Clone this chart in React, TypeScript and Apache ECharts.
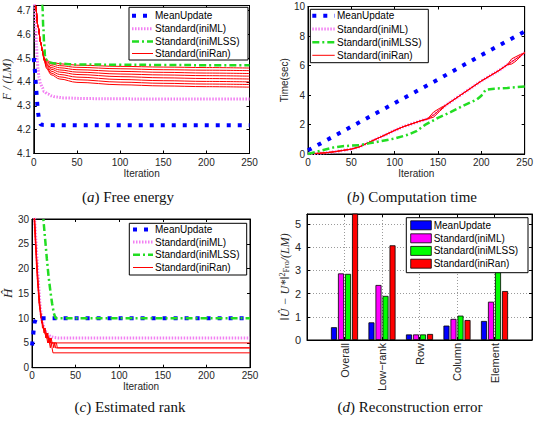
import React, { useEffect, useRef } from "react";
import * as echarts from "echarts";

// ---------- (a) Free energy ----------
const feMeanIter = [0, 1, 2, 3, 4, 5, 6, 7, 8, 10, 20, 50, 100, 150, 200, 250];
const feMeanVal = [4.5, 4.46, 4.41, 4.36, 4.31, 4.27, 4.245, 4.23, 4.222, 4.22, 4.219, 4.218, 4.218, 4.218, 4.218, 4.218];
const feMLIter = [0, 1, 2, 3, 4, 5, 6, 8, 10, 12, 16, 20, 25, 35, 60, 100, 150, 200, 250];
const feMLVal = [4.8, 4.72, 4.64, 4.56, 4.49, 4.45, 4.42, 4.39, 4.375, 4.36, 4.35, 4.342, 4.337, 4.333, 4.33, 4.329, 4.328, 4.328, 4.328];
const feMLSSIter = [9, 10, 11, 12, 13, 14, 17, 25, 50, 100, 150, 200, 250];
const feMLSSVal = [4.85, 4.72, 4.63, 4.56, 4.51, 4.495, 4.482, 4.477, 4.473, 4.472, 4.471, 4.47, 4.47];
const feRanIter = [0, 2, 5, 8, 10, 12, 15, 20, 30, 50, 100, 150, 200, 250];
const feRanRuns = [
  [4.95, 4.72, 4.63, 4.565, 4.53, 4.5, 4.49, 4.482, 4.476, 4.47, 4.465, 4.462, 4.46, 4.458],
  [4.95, 4.72, 4.63, 4.565, 4.53, 4.5, 4.485, 4.475, 4.468, 4.461, 4.455, 4.451, 4.449, 4.447],
  [4.95, 4.72, 4.63, 4.565, 4.53, 4.498, 4.48, 4.468, 4.459, 4.451, 4.444, 4.44, 4.437, 4.435],
  [4.95, 4.72, 4.63, 4.565, 4.53, 4.497, 4.475, 4.46, 4.45, 4.441, 4.433, 4.429, 4.426, 4.424],
  [4.95, 4.72, 4.63, 4.565, 4.53, 4.495, 4.47, 4.453, 4.441, 4.431, 4.422, 4.417, 4.414, 4.412],
  [4.95, 4.72, 4.63, 4.565, 4.53, 4.493, 4.465, 4.445, 4.431, 4.42, 4.41, 4.405, 4.402, 4.4],
  [4.95, 4.72, 4.63, 4.565, 4.53, 4.49, 4.46, 4.437, 4.421, 4.409, 4.399, 4.394, 4.391, 4.389],
  [4.95, 4.72, 4.63, 4.565, 4.53, 4.488, 4.455, 4.43, 4.412, 4.398, 4.388, 4.383, 4.38, 4.378],
];

// ---------- (b) Computation time ----------
const ctMeanIter = [0, 50, 100, 150, 200, 250];
const ctMeanVal = [0.25, 1.85, 3.45, 5.05, 6.7, 8.3];
const ctMLSSIter = [0, 10, 20, 30, 40, 50, 60, 70, 85, 100, 115, 125, 135, 150, 165, 180, 195, 200, 205, 215, 230, 250];
const ctMLSSVal = [0.0, 0.15, 0.3, 0.45, 0.53, 0.57, 0.6, 0.72, 0.88, 1.05, 1.3, 1.55, 1.97, 2.45, 2.85, 3.3, 3.7, 3.95, 4.35, 4.43, 4.48, 4.58];
const ctRanIter = [0, 10, 20, 30, 40, 50, 60, 70, 80, 90, 100, 110, 120, 130, 138, 145, 152, 160, 175, 190, 200, 210, 220, 230, 235, 240, 245, 250];
const ctRanRuns = [
  [0.02, 0.04, 0.08, 0.15, 0.24, 0.33, 0.5, 0.78, 1.05, 1.32, 1.6, 1.85, 2.05, 2.25, 2.38, 2.65, 3.0, 3.35, 3.95, 4.55, 4.95, 5.3, 5.65, 6.05, 6.25, 6.45, 6.65, 6.88],
  [0.02, 0.04, 0.08, 0.15, 0.24, 0.33, 0.5, 0.78, 1.05, 1.32, 1.6, 1.85, 2.05, 2.25, 2.38, 2.85, 3.1, 3.35, 3.95, 4.55, 4.95, 5.3, 5.65, 6.05, 6.45, 6.6, 6.75, 6.82],
  [0.02, 0.04, 0.08, 0.15, 0.24, 0.33, 0.5, 0.78, 1.05, 1.32, 1.6, 1.85, 2.05, 2.25, 2.38, 2.5, 2.9, 3.35, 3.95, 4.55, 4.95, 5.3, 5.65, 6.05, 6.1, 6.3, 6.6, 6.92],
];
const ctMLVal = ctRanRuns[0];

// ---------- (c) Estimated rank ----------
const rkMeanIter = [0, 1, 2, 3, 5, 250];
const rkMeanVal = [4.5, 6, 7.7, 9.2, 10, 10];
const rkMLSSIter = [12, 13, 15, 17, 19, 21, 23, 25, 27, 250];
const rkMLSSVal = [32, 30, 26, 22, 18.4, 15.5, 13, 11, 10, 10];
const rkMLIter = [0, 3, 5, 7, 9, 11, 13, 15, 18, 21, 25, 30, 250];
const rkMLVal = [32, 30, 24, 18, 13, 10, 8.5, 7.5, 6.8, 6.3, 6.1, 6, 6];
const rkRanRuns: number[][][] = [
  [[2, 32], [3, 29], [4, 25], [5, 23], [6, 20], [7, 17], [8, 15], [9, 13], [10, 11], [11, 10], [12, 9], [13, 8], [14, 8], [15, 7], [16, 7], [17, 7], [18, 6], [19, 6], [20, 6], [21, 5], [22, 6], [23, 5], [250, 5]],
  [[2, 32], [3, 30], [4, 26], [5, 22], [6, 19], [7, 16], [8, 14], [9, 12], [10, 11], [11, 9], [12, 9], [13, 8], [14, 7], [15, 8], [16, 7], [17, 6], [18, 7], [19, 6], [20, 5], [21, 6], [22, 5], [24, 5], [25, 4], [26, 5], [27, 4], [250, 4]],
  [[2, 31], [3, 28], [4, 25], [5, 21], [6, 18], [7, 16], [8, 13], [9, 12], [10, 10], [11, 10], [12, 8], [13, 8], [14, 7], [15, 7], [16, 6], [17, 7], [18, 6], [19, 5], [20, 6], [21, 5], [28, 5], [29, 4], [250, 4]],
  [[2, 33], [3, 30], [4, 27], [5, 23], [6, 20], [7, 17], [8, 14], [9, 12], [10, 11], [11, 10], [12, 9], [13, 8], [14, 8], [15, 7], [16, 6], [17, 6], [18, 5], [19, 6], [20, 5], [21, 4], [22, 5], [23, 4], [24, 3], [250, 3]],
];

// ---------- (d) Reconstruction error ----------
const errCategories = ["Overall", "Low\u2212rank", "Row", "Column", "Element"];
const errMean = [0.55, 0.76, 0.24, 0.62, 0.82];
const errML = [2.87, 2.37, 0.24, 0.91, 1.65];
const errMLSS = [2.85, 1.9, 0.24, 1.05, 3.3];
const errRan = [5.6, 4.08, 0.26, 0.86, 2.11];

const seriesNames = ["MeanUpdate", "Standard(iniML)", "Standard(iniMLSS)", "Standard(iniRan)"];

const SANS = "Liberation Sans, Arial, Helvetica, sans-serif";
const SERIF = "'Liberation Serif', 'Times New Roman', serif";
const TXT = "#262626";

const BLUE = "#0000ff";
const PINK = "#f27ff2";
const GREEN = "#22dd22";
const RED = "#ff0000";

const lineStyles: any[] = [
  { color: BLUE, width: 4, type: [4, 7], cap: "butt" },
  { color: PINK, width: 3, type: [1.5, 1.5], cap: "butt" },
  { color: GREEN, width: 2.5, type: [7, 3, 2, 3], cap: "butt" },
  { color: RED, width: 1 },
];
const barColors = [BLUE, "#ff00ff", "#00ff00", RED];

const zip = (xs: number[], ys: number[]) => xs.map((x, i) => [x, ys[i]]);

const tick = { show: true, inside: true, length: 3, lineStyle: { color: "#000", width: 1 } };
const line = { show: true, onZero: false, lineStyle: { color: "#000", width: 1 } };

function iterXAxes(gi: number, margin: number, nameGap: number) {
  const base = { type: "value", gridIndex: gi, min: 0, max: 250, interval: 50, axisLine: line, axisTick: tick, splitLine: { show: false } };
  return [
    {
      ...base,
      position: "bottom",
      axisLabel: { color: TXT, fontFamily: SANS, fontSize: 10, margin },
      name: "Iteration",
      nameLocation: "middle",
      nameGap,
      nameTextStyle: { color: TXT, fontFamily: SANS, fontSize: 10 },
    },
    { ...base, position: "top", axisLabel: { show: false } },
  ];
}

function valYAxes(gi: number, min: number, max: number, interval: number, margin: number, fmt: (v: number) => string, showMax: boolean, name: any, nameGap: number, nameStyle: any, fontSize = 10) {
  const base = { type: "value", gridIndex: gi, min, max, interval, axisLine: line, axisTick: tick, splitLine: { show: false } };
  return [
    {
      ...base,
      position: "left",
      axisLabel: { color: TXT, fontFamily: SANS, fontSize, margin, formatter: fmt, showMaxLabel: showMax },
      name,
      nameLocation: "middle",
      nameGap,
      nameTextStyle: nameStyle,
    },
    { ...base, position: "right", axisLabel: { show: false } },
  ];
}

function lineSeries(gi: number, idx: number, data: number[][], smooth: boolean) {
  return {
    type: "line",
    name: seriesNames[idx],
    xAxisIndex: 2 * gi,
    yAxisIndex: 2 * gi,
    data,
    symbol: "none",
    showSymbol: false,
    smooth: smooth ? 0.35 : false,
    smoothMonotone: "x",
    clip: true,
    silent: true,
    lineStyle: lineStyles[idx],
    z: idx === 3 ? 3 : idx === 2 ? 5 : idx === 0 ? 4 : 2,
  };
}

const Z = 100;

function legendText(x: number, y: number, text: string) {
  return {
    type: "text",
    z: Z + 1,
    x,
    y,
    style: { text, font: `10px ${SANS}`, fill: "#000", align: "left", verticalAlign: "middle", textAlign: "left", textVerticalAlign: "middle" },
  };
}

function legendBox(x: number, y: number, w: number, h: number) {
  return { type: "rect", z: Z, shape: { x, y, width: w, height: h }, style: { fill: "#ffffff", stroke: "#000000", lineWidth: 1 } };
}

function lineLegend(x: number, y: number, w: number, h: number, rowsY: number[], lx1: number, lx2: number, tx: number) {
  const els: any[] = [legendBox(x, y, w, h)];
  rowsY.forEach((ry, i) => {
    const ls = lineStyles[i];
    els.push({
      type: "line",
      z: Z + 1,
      shape: { x1: lx1, y1: ry, x2: lx2, y2: ry },
      style: { stroke: ls.color, lineWidth: ls.width, lineDash: Array.isArray(ls.type) ? ls.type : null, lineCap: "butt" },
    });
    els.push(legendText(tx, ry, seriesNames[i]));
  });
  return els;
}

function barLegend() {
  const els: any[] = [legendBox(406.3, 217.7, 121.7, 55)];
  const rows = [225.3, 238.3, 250.9, 263.7];
  rows.forEach((ry, i) => {
    els.push({ type: "rect", z: Z + 1, shape: { x: 410.7, y: ry - 4.5, width: 20.6, height: 9 }, style: { fill: barColors[i], stroke: "#000", lineWidth: 0.8 } });
    els.push(legendText(433.7, ry, seriesNames[i]));
  });
  return els;
}

function caption(cx: number, cy: number, letter: string, rest: string) {
  return {
    type: "text",
    x: cx,
    y: cy,
    z: Z,
    style: {
      text: `{p|(}{i|${letter}}{p|) ${rest}}`,
      align: "center",
      verticalAlign: "middle",
      textAlign: "center",
      textVerticalAlign: "middle",
      rich: {
        p: { font: `15px ${SERIF}`, fill: "#111" },
        i: { font: `italic 15px ${SERIF}`, fill: "#111" },
      },
    },
  };
}

function buildOption(): any {
  const grids = [
    { left: 33.5, top: 5.5, width: 216, height: 148 },
    { left: 308, top: 6.5, width: 217, height: 147.5 },
    { left: 31.7, top: 219, width: 218.3, height: 148.7 },
    { left: 307, top: 214, width: 225, height: 126 },
  ].map((g) => ({ ...g, show: true, borderColor: "#000", borderWidth: 1, backgroundColor: "transparent", containLabel: false }));

  const catData = ["", ...errCategories, ""];
  const catBase = {
    type: "category",
    gridIndex: 3,
    data: catData,
    boundaryGap: false,
    axisLine: line,
    axisTick: { ...tick, interval: 0 },
    splitLine: { show: true, interval: 0, lineStyle: { color: "#9a9a9a", width: 1, type: [1, 2] } },
  };

  const xAxis = [
    ...iterXAxes(0, 4, 14),
    ...iterXAxes(1, 3, 14),
    ...iterXAxes(2, 3, 14),
    { ...catBase, position: "bottom", axisLabel: { color: TXT, fontFamily: SANS, fontSize: 11, rotate: 90, margin: 3, interval: 0 } },
    { ...catBase, position: "top", axisLabel: { show: false }, splitLine: { show: false } },
  ];

  const yAxis = [
    ...valYAxes(0, 4.1, 4.72, 0.1, 3, (v) => v.toFixed(1), false, "F / (LM)", 18, { color: TXT, fontFamily: SERIF, fontStyle: "italic", fontSize: 12 }),
    ...valYAxes(1, 0, 10, 2, 3, (v) => String(Math.round(v)), true, "Time(sec)", 17, { color: TXT, fontFamily: SANS, fontSize: 10 }),
    ...valYAxes(2, 0, 30, 5, 3, (v) => String(Math.round(v)), true, "\u0124", 16, { color: TXT, fontFamily: SERIF, fontStyle: "italic", fontSize: 13 }),
    ...valYAxes(
      3, 0, 5.43, 1, 6, (v) => String(Math.round(v)), false,
      "{n|\u2016\u00DB \u2212 U*\u2016}{s|2}{f|Fro}{n|/(LM)}",
      16,
      {
        color: TXT,
        rich: {
          n: { fontFamily: SERIF, fontStyle: "italic", fontSize: 12, color: TXT },
          s: { fontFamily: SERIF, fontSize: 8, color: TXT, verticalAlign: "top" },
          f: { fontFamily: SERIF, fontSize: 8, color: TXT, verticalAlign: "bottom" },
        },
      },
      11
    ),
  ];
  // dotted grid for the bar panel
  yAxis[6] = { ...yAxis[6], splitLine: { show: true, lineStyle: { color: "#9a9a9a", width: 1, type: [1, 2] } } };

  const series: any[] = [];
  // (a)
  series.push(lineSeries(0, 1, zip(feMLIter, feMLVal), true));
  feRanRuns.forEach((run) => series.push(lineSeries(0, 3, zip(feRanIter, run), true)));
  series.push(lineSeries(0, 0, zip(feMeanIter, feMeanVal), false));
  series.push(lineSeries(0, 2, zip(feMLSSIter, feMLSSVal), true));
  // (b)
  series.push(lineSeries(1, 1, zip(ctRanIter, ctMLVal), false));
  ctRanRuns.forEach((run) => series.push(lineSeries(1, 3, zip(ctRanIter, run), false)));
  series.push(lineSeries(1, 0, zip(ctMeanIter, ctMeanVal), false));
  series.push(lineSeries(1, 2, zip(ctMLSSIter, ctMLSSVal), false));
  // (c)
  series.push(lineSeries(2, 1, zip(rkMLIter, rkMLVal), false));
  rkRanRuns.forEach((run) => series.push(lineSeries(2, 3, run, false)));
  series.push(lineSeries(2, 0, zip(rkMeanIter, rkMeanVal), false));
  series.push(lineSeries(2, 2, zip(rkMLSSIter, rkMLSSVal), false));
  // (d)
  [errMean, errML, errMLSS, errRan].forEach((vals, i) => {
    series.push({
      type: "bar",
      name: seriesNames[i],
      xAxisIndex: 6,
      yAxisIndex: 6,
      data: ["-", ...vals, "-"],
      barWidth: 6,
      barGap: "17%",
      clip: true,
      silent: true,
      itemStyle: { color: barColors[i], borderColor: "#000", borderWidth: 0.8 },
    });
  });

  const graphic = {
    elements: [
      ...lineLegend(129, 7.3, 119, 52.7, [15.7, 28.7, 41.5, 53.5], 132, 153, 155),
      ...lineLegend(310.3, 9.3, 118, 53.4, [15.7, 29, 42.3, 55.3], 312.3, 334.7, 337),
      ...lineLegend(129.3, 223.3, 117.4, 51.7, [229.6, 242, 254.8, 267.5], 133, 153, 155),
      ...barLegend(),
      caption(128, 197, "a", "Free energy"),
      caption(412, 197, "b", "Computation time"),
      caption(130, 407, "c", "Estimated rank"),
      caption(410, 407, "d", "Reconstruction error"),
    ],
  };

  return { animation: false, backgroundColor: "#fff", grid: grids, xAxis, yAxis, series, graphic };
}

export default function App() {
  const ref = useRef<HTMLDivElement>(null);
  useEffect(() => {
    const chart = echarts.init(ref.current!, undefined, { renderer: "svg" });
    chart.setOption(buildOption());
    return () => chart.dispose();
  }, []);
  return <div ref={ref} style={{ position: "fixed", left: 0, top: 0, width: 536, height: 423, background: "#fff" }} />;
}
